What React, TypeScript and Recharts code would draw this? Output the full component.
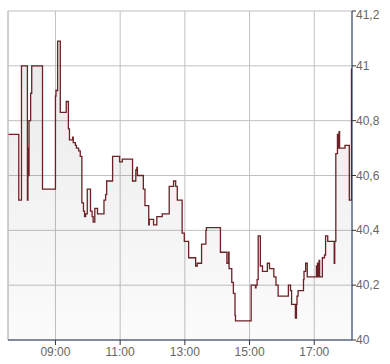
import React from "react";
import {
  ComposedChart,
  Area,
  XAxis,
  YAxis,
  CartesianGrid,
  ReferenceLine,
} from "recharts";

const times = [
  "07:32", "07:52", "07:57", "08:08", "08:09", "08:10", "08:11", "08:14", "08:16", "08:36",
  "09:00", "09:01", "09:04", "09:09", "09:20", "09:24", "09:26", "09:32", "09:33", "09:37",
  "09:39", "09:43", "09:46", "09:49", "09:52", "09:54", "09:56", "09:59", "10:05", "10:08",
  "10:10", "10:13", "10:18", "10:30", "10:33", "10:35", "10:46", "10:59", "11:04", "11:23",
  "11:29", "11:31", "11:32", "11:43", "11:46", "11:53", "11:54", "12:02", "12:08", "12:18",
  "12:31", "12:39", "12:43", "12:46", "12:55", "12:59", "13:07", "13:20", "13:23", "13:31",
  "13:39", "13:40", "14:06", "14:18", "14:21", "14:22", "14:27", "14:30", "14:33", "14:34",
  "15:03", "15:11", "15:12", "15:14", "15:16", "15:20", "15:24", "15:33", "15:37", "15:45",
  "15:49", "15:53", "16:12", "16:16", "16:18", "16:25", "16:27", "16:28", "16:30", "16:40",
  "16:41", "16:44", "16:47", "17:04", "17:05", "17:06", "17:07", "17:09", "17:10", "17:15",
  "17:19", "17:21", "17:25", "17:37", "17:38", "17:40", "17:43", "17:44", "17:46", "17:47",
  "17:57", "18:05", "18:09",
];

const prices = [
  40.75, 40.51, 41.0, 40.51, 40.7, 40.6, 40.8, 40.9, 41.0, 40.55,
  40.89, 40.91, 41.09, 40.83, 40.87, 40.77, 40.73, 40.74, 40.72, 40.71,
  40.7, 40.69, 40.67, 40.5, 40.47, 40.45, 40.46, 40.55, 40.47, 40.45,
  40.43, 40.48, 40.46, 40.51, 40.53, 40.58, 40.67, 40.65, 40.66, 40.58,
  40.62, 40.63, 40.6, 40.55, 40.49, 40.42, 40.44, 40.42, 40.45, 40.46,
  40.56, 40.58, 40.56, 40.51, 40.39, 40.36, 40.3, 40.27, 40.28, 40.35,
  40.4, 40.41, 40.32, 40.28, 40.32, 40.26, 40.21, 40.17, 40.09, 40.07,
  40.2, 40.19, 40.2, 40.22, 40.38, 40.27, 40.25, 40.28, 40.26, 40.23,
  40.2, 40.16, 40.2, 40.18, 40.13, 40.08, 40.13, 40.16, 40.18, 40.22,
  40.25, 40.28, 40.23, 40.27, 40.23, 40.28, 40.23, 40.29, 40.23, 40.3,
  40.31, 40.38, 40.36, 40.28, 40.36, 40.68, 40.75, 40.7, 40.76, 40.7,
  40.71, 40.51, 40.99,
];

const xDomainLabels = ["07:32", "18:10"];
const xTickLabels = ["09:00", "11:00", "13:00", "15:00", "17:00"];
const yTicks = [40, 40.2, 40.4, 40.6, 40.8, 41, 41.2];

const toMin = (s: string) => {
  const [h, m] = s.split(":").map(Number);
  return h * 60 + m;
};
const fromMin = (v: number) => {
  const h = Math.floor(v / 60);
  const m = Math.round(v - h * 60);
  return `${String(h).padStart(2, "0")}:${String(m).padStart(2, "0")}`;
};

const data = times.map((t, i) => ({ t: toMin(t), p: prices[i] }));
const xDomain = xDomainLabels.map(toMin);
const xTicks = xTickLabels.map(toMin);

const AXIS = "#1f3864";
const GRID = "#c0c0c0";
const TEXT = "#666666";

const YTick = (props: any) => {
  const { x, y, payload } = props;
  const v = payload.value;
  const dy = v === yTicks[yTicks.length - 1] ? 8 : 4;
  return (
    <text
      x={x}
      y={y + dy}
      fill={TEXT}
      fontSize={12}
      fontFamily="Liberation Sans, Arial, sans-serif"
      textAnchor="start"
    >
      {String(Math.round(v * 10) / 10).replace(".", ",")}
    </text>
  );
};

export default function App() {
  return (
    <div style={{ position: "absolute", left: 0, top: 0, background: "#fff" }}>
      <ComposedChart
        width={390}
        height={364}
        data={data}
        margin={{ top: 11, right: 0, bottom: 0, left: 8 }}
      >
        <defs>
          <linearGradient id="fillGrad" x1="0" y1="0" x2="0" y2="1">
            <stop offset="0%" stopColor="#000" stopOpacity={0.085} />
            <stop offset="100%" stopColor="#000" stopOpacity={0.015} />
          </linearGradient>
        </defs>
        <CartesianGrid stroke={GRID} strokeWidth={1} />
        <XAxis
          dataKey="t"
          type="number"
          domain={xDomain}
          ticks={xTicks}
          allowDataOverflow
          tickFormatter={fromMin}
          height={24}
          stroke={AXIS}
          tickSize={5}
          tickLine={{ stroke: "#333" }}
          tick={{ fill: TEXT, fontSize: 12, fontFamily: "Liberation Sans, Arial, sans-serif" }}
          interval={0}
        />
        <YAxis
          orientation="right"
          domain={[yTicks[0], yTicks[yTicks.length - 1]]}
          ticks={yTicks}
          allowDataOverflow
          width={38}
          stroke={AXIS}
          tickSize={4}
          tickMargin={0}
          tickLine={{ stroke: "#333" }}
          tick={<YTick />}
          interval={0}
        />
        <ReferenceLine x={xDomain[0]} stroke={GRID} />
        <Area
          type="stepAfter"
          dataKey="p"
          stroke="#6b2125"
          strokeWidth={1.3}
          fill="url(#fillGrad)"
          fillOpacity={1}
          isAnimationActive={false}
          dot={false}
          activeDot={false}
        />
      </ComposedChart>
    </div>
  );
}
